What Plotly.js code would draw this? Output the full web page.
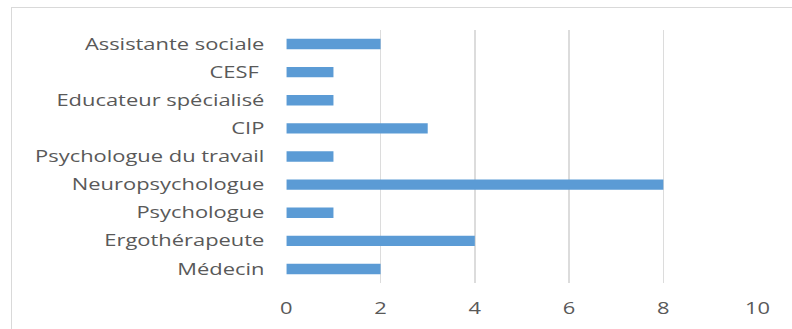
<!DOCTYPE html>
<html>
<head>
<meta charset="utf-8">
<script src="https://cdn.plot.ly/plotly-3.0.1.min.js"></script>
<style>
  html, body { margin: 0; padding: 0; background: #ffffff; overflow: hidden; }
  #wrap { position: relative; width: 792px; height: 329px; overflow: hidden; background: #ffffff; }
  #frame { position: absolute; left: 11px; top: 7px; width: 800px; height: 340px;
           border: 1px solid #d9d9d9; box-sizing: border-box; }
  /* the chart is laid out narrower and widened, giving the broad lettering */
  #chart { position: absolute; left: 0; top: 0; width: 578px; height: 329px;
           transform: scaleX(1.37); transform-origin: 0 0; }
</style>
</head>
<body>
<div id="wrap">
  <div id="frame"></div>
  <div id="chart"></div>
</div>
<script>
// Professions and number of people for each
const categories = [
  "Assistante sociale",
  "CESF ",
  "Educateur spécialisé",
  "CIP",
  "Psychologue du travail",
  "Neuropsychologue",
  "Psychologue",
  "Ergothérapeute",
  "Médecin"
];
const counts = [2, 1, 1, 3, 1, 8, 1, 4, 2];
const xTicks = [0, 2, 4, 6, 8, 10];

const textColor = "#595959";
const gridColor = "#dcdcdc";

const data = [{
  type: "bar",
  orientation: "h",
  y: categories,
  x: counts,
  marker: { color: "#5b9bd5" },
  hoverinfo: "x+y"
}];

const layout = {
  width: 578,
  height: 329,
  margin: { l: 209, r: 25, t: 30, b: 46, pad: 0 },
  paper_bgcolor: "rgba(0,0,0,0)",
  plot_bgcolor: "rgba(0,0,0,0)",
  bargap: 0.63,
  showlegend: false,
  font: { family: "Open Sans, sans-serif", size: 16, color: textColor },
  xaxis: {
    range: [0, 10],
    tickvals: xTicks,
    ticktext: xTicks.map(String),
    showgrid: true,
    gridcolor: gridColor,
    gridwidth: 1,
    zeroline: false,
    showline: false,
    ticks: "",
    ticklabelstandoff: 14,
    tickfont: { size: 16, color: textColor },
    fixedrange: true
  },
  yaxis: {
    type: "category",
    autorange: "reversed",
    showgrid: false,
    zeroline: false,
    showline: false,
    ticks: "",
    ticklabelstandoff: 15,
    tickfont: { size: 16, color: textColor },
    fixedrange: true
  }
};

Plotly.newPlot("chart", data, layout, { displayModeBar: false, responsive: false, staticPlot: true });
</script>
</body>
</html>
